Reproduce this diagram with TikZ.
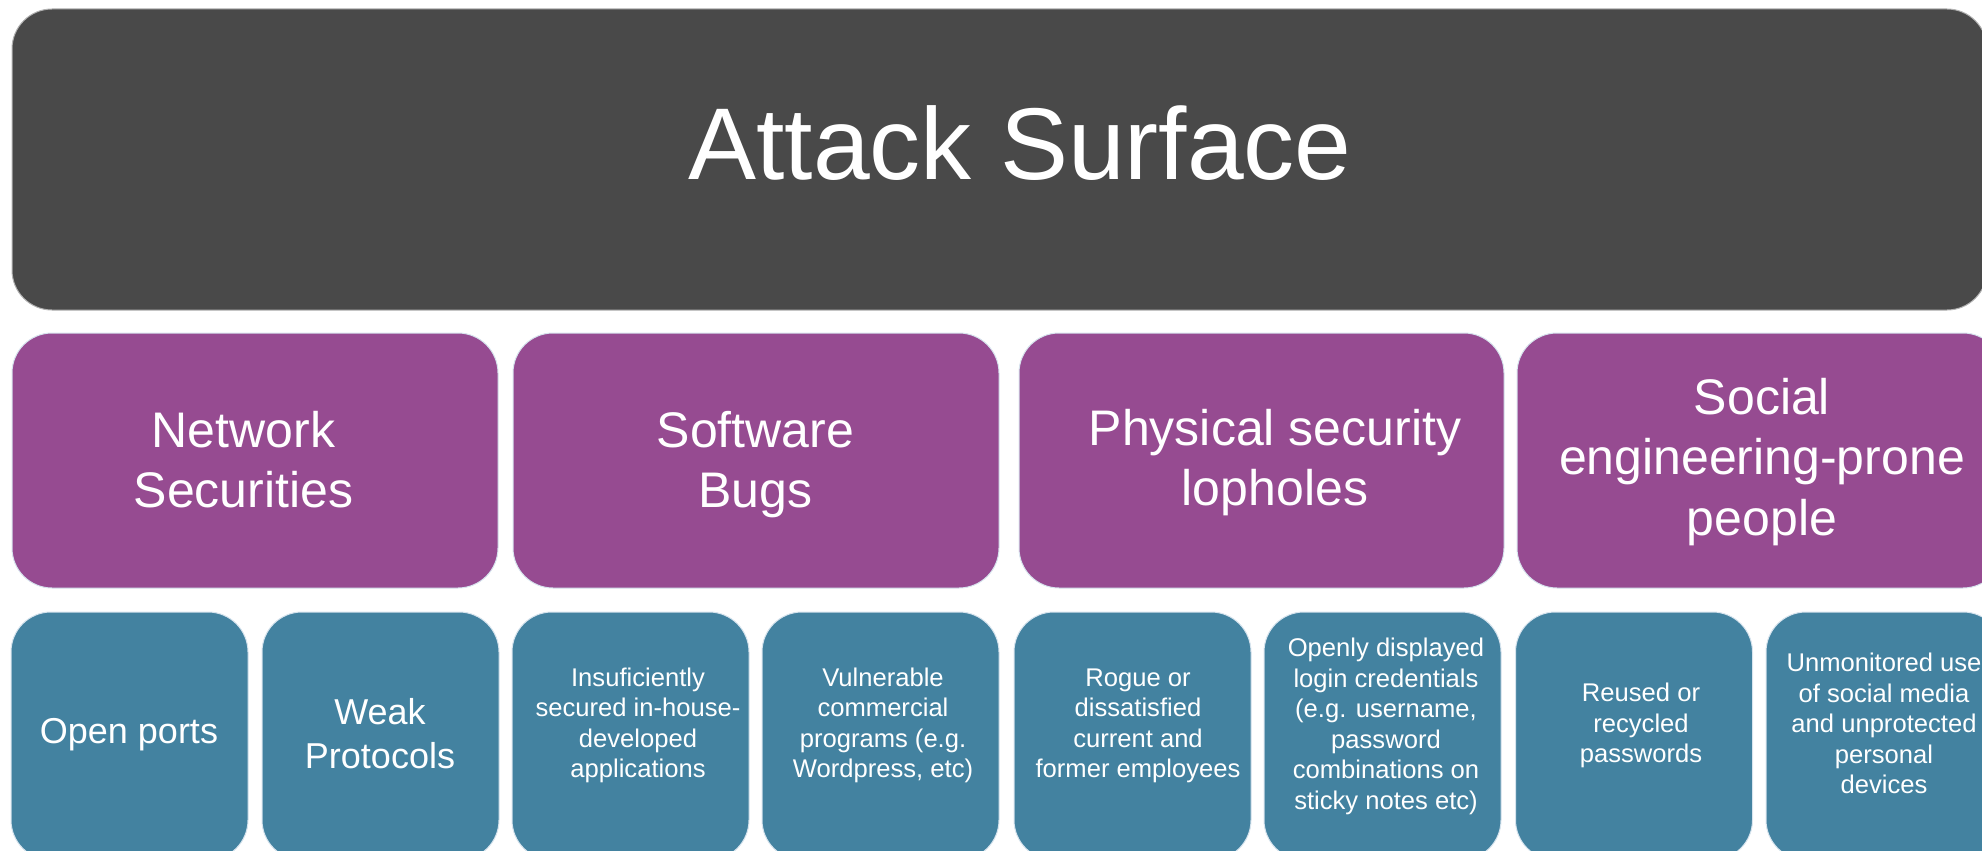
\documentclass[tikz,border=0pt]{standalone}
\usepackage{fontspec}
\setmainfont{Liberation Sans}
\definecolor{surfacegray}{RGB}{73,73,73}
\definecolor{catpurple}{RGB}{150,75,145}
\definecolor{itemteal}{RGB}{67,130,160}
\definecolor{edgepale}{RGB}{215,228,238}
% stacked, centred lines whose baseline is that of the first line
\newcommand\stack[1]{\begin{tabular}[t]{@{}c@{}}#1\end{tabular}}
\begin{document}
\begin{tikzpicture}[x=1pt,y=-1pt,
  panel/.style={rectangle, rounded corners=40pt, inner sep=0pt, draw=edgepale, line width=1pt},
  topbox/.style={panel, fill=surfacegray, draw=gray!60},
  catbox/.style={panel, fill=catpurple, minimum width=486pt, minimum height=255pt},
  itembox/.style={panel, fill=itemteal, minimum width=237pt, minimum height=248pt},
  words/.style={text=white, inner sep=0pt, anchor=base},
  titletext/.style={words, font=\fontsize{102}{120}\selectfont},
  cattext/.style={words, font=\fontsize{50}{60.5}\selectfont},
  bigitemtext/.style={words, font=\fontsize{36}{44}\selectfont},
  itemtext/.style={words, font=\fontsize{25.6}{30.6}\selectfont}]
\useasboundingbox (0,0) rectangle (1982,851);

% headline panel
\node[topbox, minimum width=1975pt, minimum height=301pt] (surface) at (999.5,159.5) {};
\node[titletext] (surfaceT) at (1020,179) {Attack Surface};

% category panels
\node[catbox] (net)  at (255,460.5)   {};
\node[catbox] (soft) at (756,460.5)   {};
\node[catbox, minimum width=485pt] (phys) at (1261.5,460.5) {};
\node[catbox] (soc)  at (1760,460.5)  {};

\node[cattext] (netT)  at (243.5,447) {\stack{Network\\Securities}};
\node[cattext] (softT) at (755.5,447) {\stack{Software\\Bugs}};
\node[cattext] (physT) at (1275,445)  {\stack{Physical security\\lopholes}};
\node[cattext] (socT)  at (1762,414)  {\stack{Social\\engineering-prone\\people}};

% item panels
\node[itembox] (open)  at (129.5,736)  {};
\node[itembox] (weak)  at (380.5,736)  {};
\node[itembox] (house) at (630.5,736)  {};
\node[itembox] (comm)  at (880.5,736)  {};
\node[itembox] (rogue) at (1132.5,736) {};
\node[itembox] (creds) at (1382.5,736) {};
\node[itembox] (reuse) at (1634,736)   {};
\node[itembox] (media) at (1884.5,736) {};

\node[bigitemtext] (openT) at (129,743) {Open ports};
\node[bigitemtext] (weakT) at (380,724) {\stack{Weak\\Protocols}};
\node[itemtext] (houseT) at (638,686)  {\stack{Insuficiently\\secured in-house-\\developed\\applications}};
\node[itemtext] (commT)  at (883,686)  {\stack{Vulnerable\\commercial\\programs (e.g.\\Wordpress, etc)}};
\node[itemtext] (rogueT) at (1138,686) {\stack{Rogue or\\dissatisfied\\current and\\former employees}};
\node[itemtext] (credsT) at (1386,656.5) {\stack{Openly displayed\\login credentials\\(e.g. username,\\password\\combinations on\\sticky notes etc)}};
\node[itemtext] (reuseT) at (1641,701.5) {\stack{Reused or\\recycled\\passwords}};
\node[itemtext] (mediaT) at (1884,671.5) {\stack{Unmonitored use\\of social media\\and unprotected\\personal\\devices}};
\end{tikzpicture}
\end{document}
